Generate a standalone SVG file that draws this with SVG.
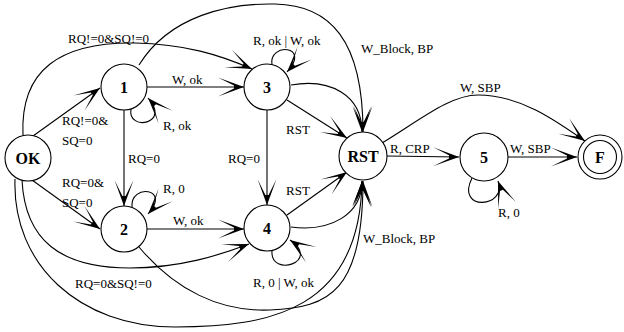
<svg xmlns="http://www.w3.org/2000/svg" width="624" height="332" viewBox="0 0 624 332">
<defs>
<style>
.n{fill:#fff;stroke:#000;stroke-width:1.1}
.nl{font-family:"Liberation Serif",serif;font-weight:bold;font-size:16px;text-anchor:middle}
.e{fill:none;stroke:#000;stroke-width:1.1;marker-end:url(#a)}
.l{font-family:"Liberation Serif",serif;font-size:13px;fill:#000}
</style>
<marker id="a" markerUnits="userSpaceOnUse" markerWidth="30" markerHeight="22" viewBox="-28 -11 30 22" refX="0" refY="0" orient="auto" overflow="visible">
<path d="M0,0 L-26,-9.5 L-10,-1.6 L-10,1.6 L-26,9.5 Z" fill="#000"/>
</marker>
</defs>
<rect width="624" height="332" fill="#fff"/>
<g id="connectors">
<path class="e" d="M33,136 L100,88"/>
<path class="e" d="M32,180 L100,229"/>
<path class="e" d="M23,135 C20,70 60,42 135,43 C185,44 220,55 252,69"/>
<path class="e" d="M147,87 L244,87"/>
<path class="e" d="M131,109 C127,132 172,124 148,98"/>
<path class="e" d="M124,110 L124,206"/>
<path class="e" d="M139,65 C170,15 230,3 275,4 C330,5 363,40 363,132"/>
<path class="e" d="M272,65 C268,42 312,45 287,72"/>
<path class="e" d="M287,100 L347,138"/>
<path class="e" d="M291,85 C330,78 362,95 362,132"/>
<path class="e" d="M267,110 L267,205"/>
<path class="e" d="M147,229 L244,229"/>
<path class="e" d="M132,207 C130,183 172,188 148,214"/>
<path class="e" d="M22,180 C25,240 60,268 130,268 C180,268 220,255 249,244"/>
<path class="e" d="M15,179 C12,265 80,327 175,327 C270,327 360,310 362,181"/>
<path class="e" d="M139,247 C175,290 220,312 270,310 C330,308 363,290 363,181"/>
<path class="e" d="M291,227 C330,232 362,215 362,181"/>
<path class="e" d="M287,215 L347,172"/>
<path class="e" d="M272,251 C270,278 322,262 290,240"/>
<path class="e" d="M387,156 L459,157"/>
<path class="e" d="M472,178 C455,212 508,208 498,181"/>
<path class="e" d="M508,157 L577,157"/>
<path class="e" d="M382,143 C420,120 450,95 478,95 C520,95 555,120 585,141"/>
</g>
<g id="labels">
<text class="l" x="68" y="43">RQ!=0&amp;SQ!=0</text>
<text class="l" x="62" y="125">RQ!=0&amp;</text>
<text class="l" x="62" y="145">SQ=0</text>
<text class="l" x="62" y="187">RQ=0&amp;</text>
<text class="l" x="62" y="207">SQ=0</text>
<text class="l" x="172" y="84">W, ok</text>
<text class="l" x="163" y="130">R, ok</text>
<text class="l" x="128" y="163">RQ=0</text>
<text class="l" x="228" y="163">RQ=0</text>
<text class="l" x="163" y="193">R, 0</text>
<text class="l" x="173" y="225">W, ok</text>
<text class="l" x="75" y="288">RQ=0&amp;SQ!=0</text>
<text class="l" x="253" y="45">R, ok | W, ok</text>
<text class="l" x="253" y="287">R, 0 | W, ok</text>
<text class="l" x="286" y="134">RST</text>
<text class="l" x="286" y="195">RST</text>
<text class="l" x="361" y="53">W_Block, BP</text>
<text class="l" x="363" y="243">W_Block, BP</text>
<text class="l" x="390" y="153">R, CRP</text>
<text class="l" x="460" y="92">W, SBP</text>
<text class="l" x="510" y="153">W, SBP</text>
<text class="l" x="498" y="217">R, 0</text>
</g>
<g id="OK"><circle class="n" cx="28" cy="158" r="23"/><text class="nl" x="28" y="164" font-size="17">OK</text></g>
<g id="n1"><circle class="n" cx="124" cy="87" r="23"/><text class="nl" x="124" y="93">1</text></g>
<g id="n2"><circle class="n" cx="124" cy="229" r="23"/><text class="nl" x="124" y="235">2</text></g>
<g id="n3"><circle class="n" cx="267" cy="87" r="23"/><text class="nl" x="267" y="93">3</text></g>
<g id="n4"><circle class="n" cx="267" cy="228" r="23"/><text class="nl" x="267" y="234">4</text></g>
<g id="RST"><circle class="n" cx="363" cy="156" r="24"/><text class="nl" x="363" y="162">RST</text></g>
<g id="n5"><circle class="n" cx="484" cy="157" r="24"/><text class="nl" x="484" y="163">5</text></g>
<g id="F"><circle class="n" cx="600" cy="157" r="22"/><circle class="n" cx="600" cy="157" r="16.5"/><text class="nl" x="600" y="163">F</text></g>
</svg>
